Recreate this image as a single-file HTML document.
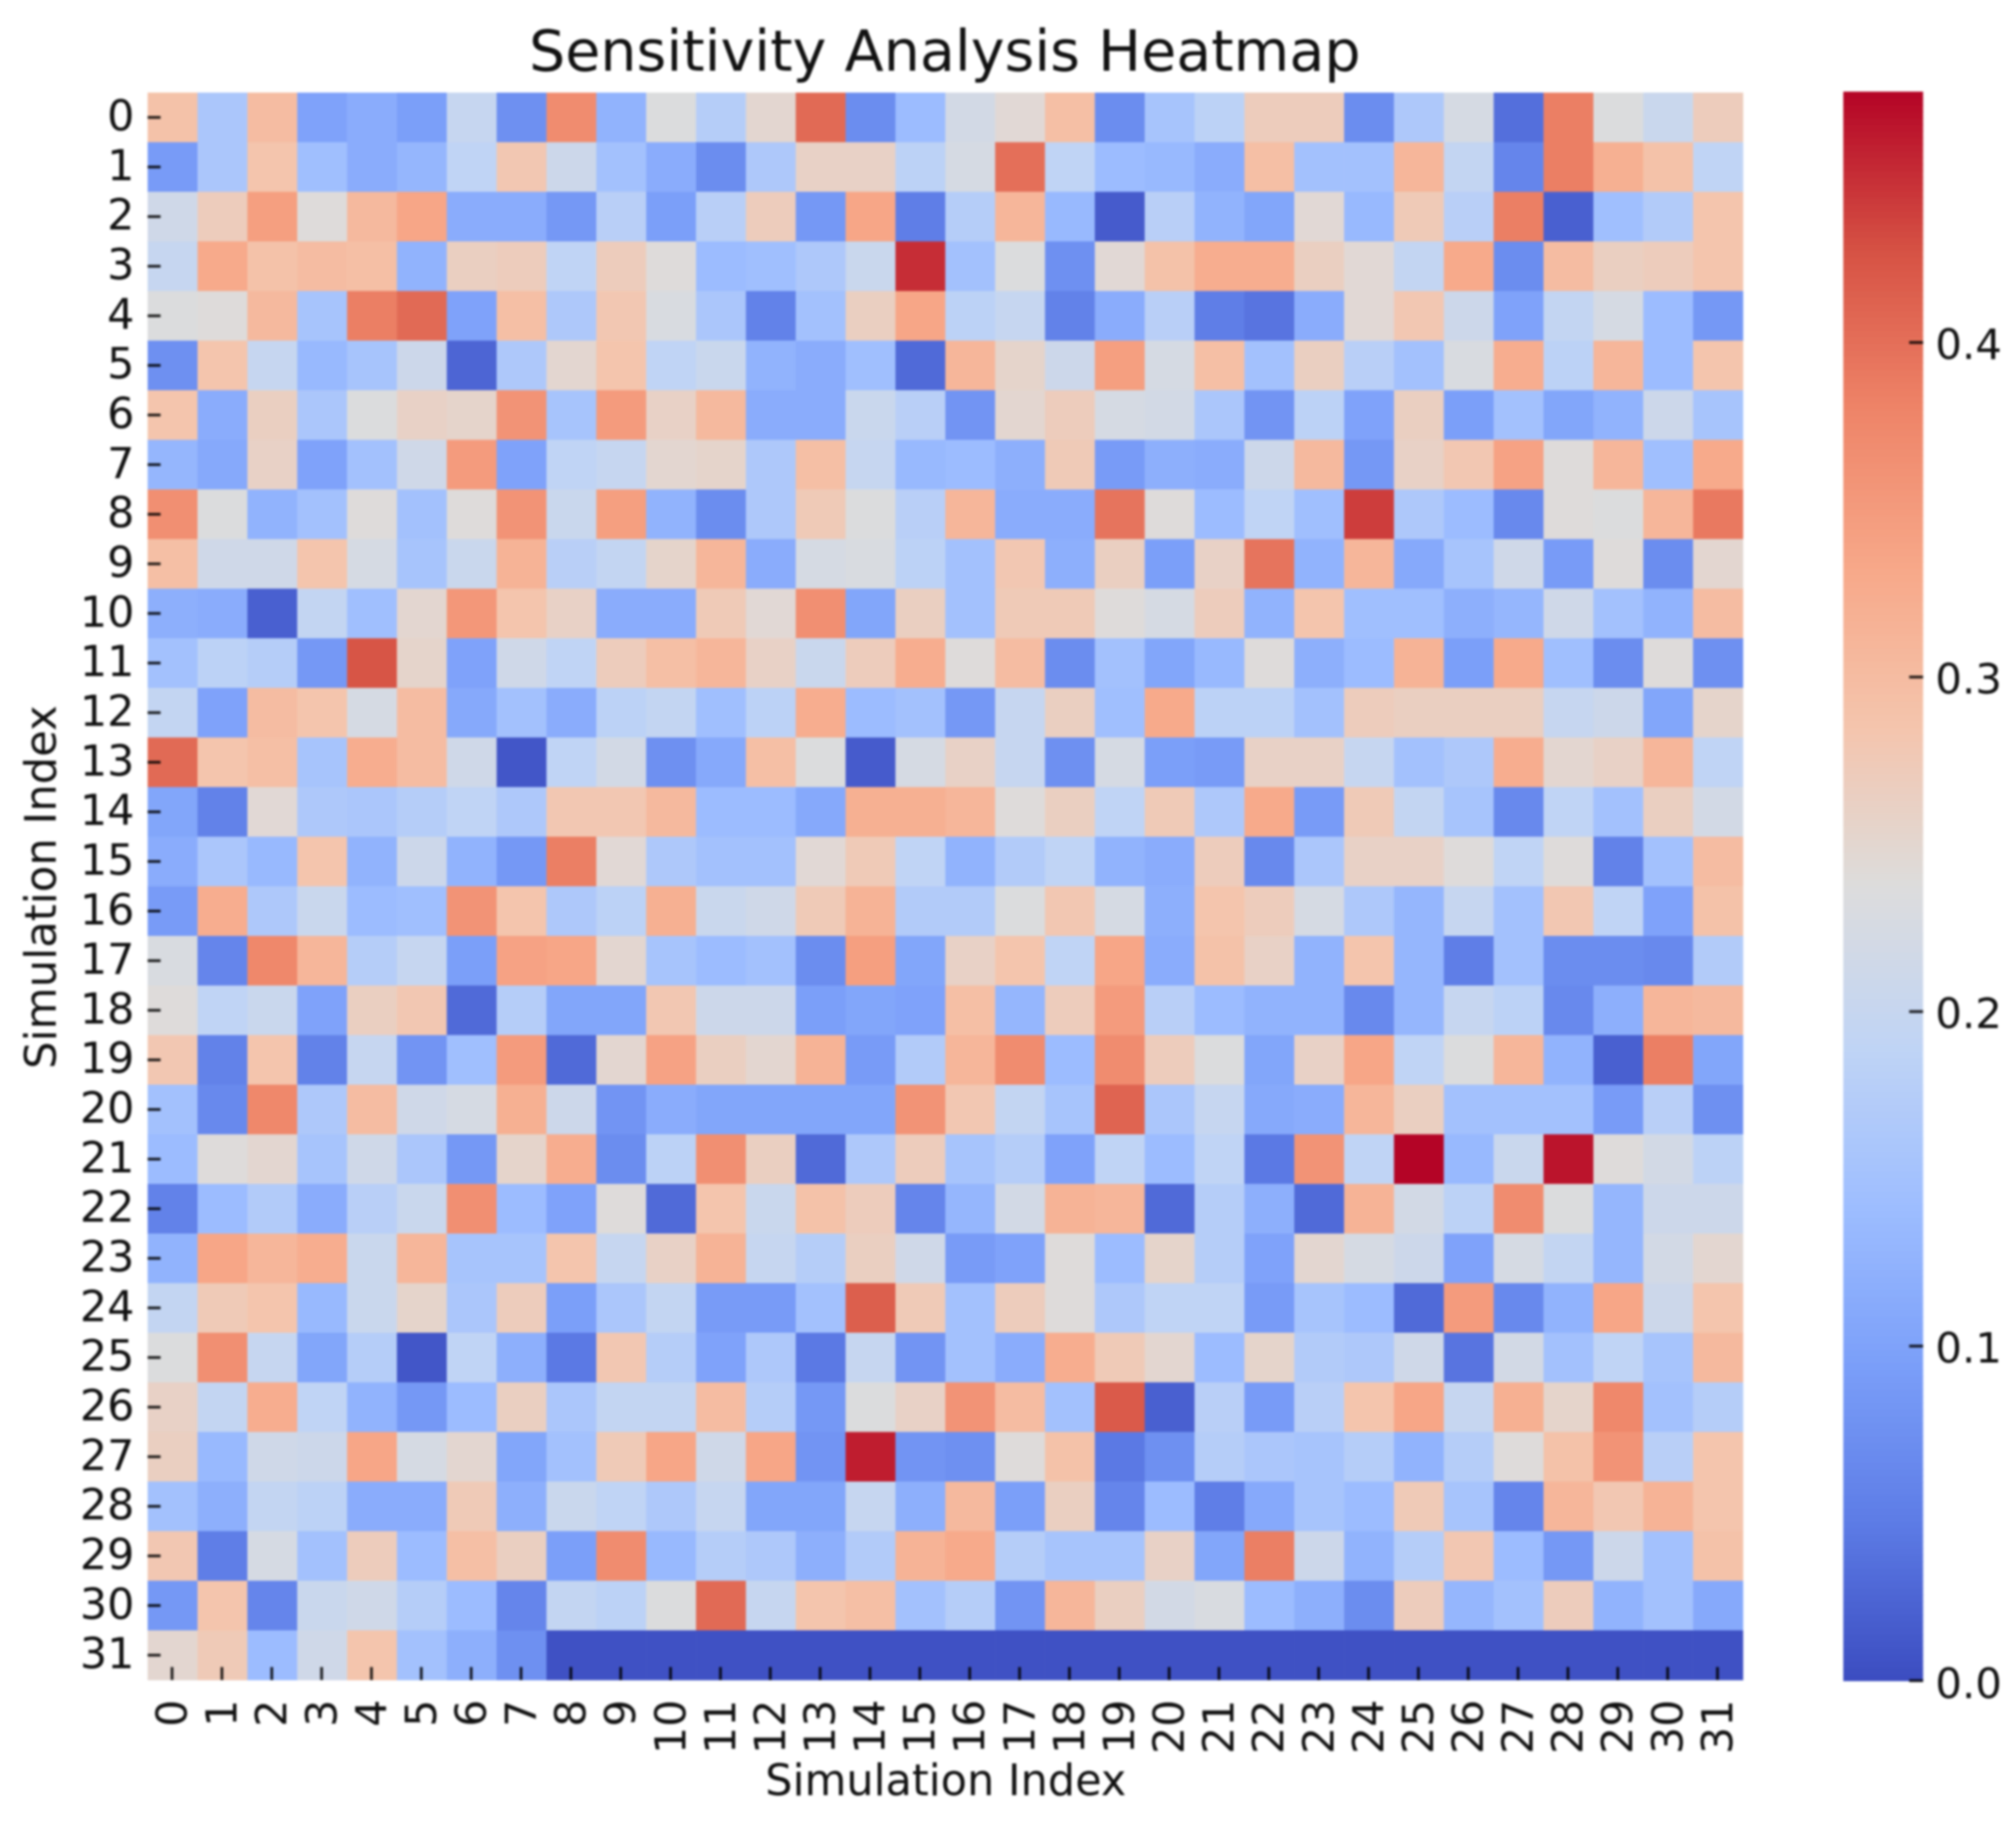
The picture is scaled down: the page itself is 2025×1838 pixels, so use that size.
<!DOCTYPE html>
<html lang="en">
<head>
<meta charset="utf-8">
<title>Sensitivity Analysis Heatmap</title>
<style>
  html, body { margin: 0; padding: 0; background: #fff; }
  body { width: 2025px; height: 1838px; overflow: hidden; }
  svg { display: block; filter: blur(1px); }
  text { font-family: "DejaVu Sans", "Liberation Sans", sans-serif; fill: #111; }
</style>
</head>
<body>
<svg id="chart" xmlns="http://www.w3.org/2000/svg" width="2025" height="1838" viewBox="0 0 2025 1838">
  <rect x="0" y="0" width="2025" height="1838" fill="#ffffff"/>
  <text x="949" y="71" font-size="57.4" text-anchor="middle">Sensitivity Analysis Heatmap</text>
  <text x="950" y="1803" font-size="43.2" text-anchor="middle">Simulation Index</text>
  <text x="0" y="0" font-size="43.5" text-anchor="middle" transform="translate(56 891) rotate(-90)">Simulation Index</text>
  <g id="cells"></g>
  <g id="xticks"></g>
  <g id="yticks"></g>
  <g id="colorbar"></g>
</svg>
<script>
const rowLabels = ["0","1","2","3","4","5","6","7","8","9","10","11","12","13","14","15","16","17","18","19","20","21","22","23","24","25","26","27","28","29","30","31"];
const colLabels = ["0","1","2","3","4","5","6","7","8","9","10","11","12","13","14","15","16","17","18","19","20","21","22","23","24","25","26","27","28","29","30","31"];
const colorbarTicks = [0.0, 0.1, 0.2, 0.3, 0.4];
const colorMax = 0.475;
const values = [
[.29,.16,.30,.10,.115,.095,.20,.075,.37,.125,.235,.175,.25,.405,.07,.14,.22,.245,.295,.07,.155,.185,.27,.27,.07,.165,.225,.035,.385,.235,.205,.27],
[.09,.16,.285,.145,.115,.13,.19,.28,.21,.15,.115,.07,.165,.26,.26,.185,.225,.40,.19,.14,.135,.115,.295,.15,.15,.31,.195,.06,.385,.32,.29,.19],
[.215,.27,.345,.24,.305,.335,.115,.115,.085,.18,.095,.18,.27,.085,.335,.05,.175,.31,.135,.015,.18,.125,.105,.245,.135,.275,.18,.385,.02,.145,.17,.285],
[.20,.33,.29,.30,.295,.125,.265,.27,.19,.27,.24,.14,.145,.165,.205,.45,.15,.235,.075,.245,.29,.325,.325,.265,.245,.195,.33,.07,.30,.265,.27,.285],
[.235,.24,.305,.155,.385,.405,.10,.295,.165,.28,.23,.16,.055,.15,.265,.335,.185,.20,.055,.115,.18,.05,.04,.115,.245,.28,.21,.10,.195,.225,.14,.085],
[.075,.285,.20,.135,.155,.21,.025,.165,.25,.285,.19,.205,.125,.115,.145,.03,.31,.255,.21,.345,.225,.295,.15,.265,.18,.15,.23,.325,.185,.31,.14,.285],
[.285,.115,.265,.16,.235,.26,.255,.36,.155,.35,.26,.305,.115,.115,.205,.18,.08,.25,.27,.225,.22,.16,.08,.185,.10,.265,.095,.15,.105,.125,.21,.155],
[.13,.11,.26,.10,.15,.215,.35,.10,.19,.20,.25,.255,.165,.295,.20,.135,.14,.12,.275,.09,.12,.115,.21,.305,.085,.26,.28,.34,.24,.31,.145,.33],
[.365,.235,.125,.15,.24,.15,.24,.36,.205,.345,.125,.07,.165,.275,.235,.18,.31,.115,.115,.395,.24,.14,.19,.145,.44,.165,.14,.065,.24,.235,.31,.39],
[.295,.215,.215,.285,.225,.155,.205,.315,.18,.195,.255,.31,.115,.225,.23,.185,.15,.28,.12,.265,.095,.26,.395,.125,.31,.11,.155,.215,.09,.24,.07,.25],
[.12,.115,.02,.195,.145,.25,.355,.285,.26,.115,.115,.275,.245,.365,.105,.265,.15,.275,.275,.24,.225,.27,.125,.285,.145,.145,.12,.13,.215,.15,.125,.30],
[.15,.185,.175,.085,.425,.255,.10,.215,.19,.27,.295,.31,.26,.205,.27,.325,.24,.30,.07,.15,.105,.135,.24,.12,.14,.315,.095,.33,.145,.07,.24,.075],
[.195,.10,.30,.285,.225,.30,.11,.15,.115,.185,.195,.145,.185,.325,.14,.15,.085,.20,.265,.145,.33,.185,.185,.15,.27,.265,.265,.265,.20,.21,.105,.255],
[.405,.285,.295,.155,.325,.30,.215,.01,.19,.22,.075,.11,.295,.235,.015,.225,.26,.20,.075,.225,.095,.09,.26,.26,.20,.15,.165,.325,.25,.26,.31,.19],
[.105,.055,.245,.165,.16,.175,.19,.165,.28,.28,.305,.14,.14,.11,.32,.32,.31,.24,.265,.19,.275,.165,.33,.09,.275,.195,.155,.065,.19,.15,.265,.22],
[.115,.16,.135,.285,.125,.21,.125,.085,.385,.245,.165,.15,.15,.245,.275,.19,.125,.17,.19,.125,.115,.27,.065,.16,.26,.26,.24,.19,.24,.055,.15,.30],
[.09,.325,.165,.205,.14,.145,.36,.285,.165,.185,.32,.205,.215,.275,.315,.17,.17,.235,.28,.225,.12,.285,.27,.225,.165,.13,.20,.15,.28,.19,.10,.29],
[.23,.06,.375,.31,.175,.20,.095,.34,.335,.25,.155,.14,.15,.07,.345,.105,.26,.285,.19,.335,.115,.29,.26,.125,.285,.13,.05,.15,.07,.07,.065,.17],
[.24,.19,.205,.10,.265,.28,.03,.175,.105,.105,.28,.21,.21,.095,.105,.10,.295,.13,.27,.35,.18,.14,.125,.125,.065,.13,.20,.185,.065,.12,.31,.305],
[.28,.055,.285,.055,.20,.08,.145,.35,.03,.25,.34,.265,.25,.315,.09,.17,.31,.37,.14,.37,.27,.235,.105,.26,.335,.19,.235,.31,.125,.02,.385,.105],
[.15,.065,.375,.165,.30,.215,.225,.32,.21,.08,.115,.105,.105,.105,.105,.36,.28,.195,.155,.41,.16,.20,.11,.115,.31,.265,.15,.15,.15,.09,.18,.075],
[.14,.24,.25,.155,.215,.16,.085,.255,.325,.07,.185,.365,.265,.03,.165,.27,.155,.175,.10,.19,.14,.19,.045,.36,.19,.475,.135,.205,.465,.24,.22,.185],
[.055,.14,.17,.115,.18,.205,.365,.14,.10,.24,.03,.285,.205,.29,.27,.06,.13,.22,.315,.31,.03,.175,.12,.03,.315,.22,.185,.37,.235,.13,.21,.21],
[.125,.335,.31,.325,.205,.31,.155,.155,.285,.20,.26,.315,.20,.175,.265,.215,.09,.10,.24,.14,.255,.175,.10,.25,.225,.21,.10,.225,.195,.13,.22,.25],
[.195,.275,.285,.135,.205,.255,.16,.27,.095,.16,.195,.09,.09,.15,.415,.275,.15,.27,.24,.165,.19,.19,.09,.155,.14,.03,.35,.065,.125,.335,.21,.285],
[.235,.365,.20,.105,.175,.01,.19,.12,.045,.28,.175,.10,.165,.045,.20,.08,.15,.115,.325,.275,.25,.14,.255,.17,.165,.215,.04,.22,.15,.19,.155,.305],
[.26,.195,.325,.19,.125,.085,.14,.265,.16,.195,.195,.30,.175,.085,.235,.26,.36,.30,.15,.42,.02,.18,.09,.18,.285,.335,.20,.32,.255,.375,.15,.175],
[.265,.135,.215,.21,.335,.225,.25,.105,.15,.275,.335,.215,.335,.08,.46,.08,.075,.24,.29,.045,.075,.175,.16,.155,.175,.125,.175,.24,.29,.36,.18,.285],
[.15,.12,.195,.185,.115,.115,.275,.12,.205,.19,.165,.20,.105,.105,.20,.12,.305,.095,.265,.06,.14,.05,.11,.155,.14,.275,.155,.06,.31,.28,.315,.285],
[.28,.05,.225,.15,.27,.14,.295,.265,.095,.37,.135,.175,.165,.12,.17,.315,.33,.175,.155,.155,.26,.105,.385,.21,.125,.175,.28,.14,.085,.21,.15,.29],
[.085,.285,.06,.205,.215,.175,.14,.06,.195,.185,.235,.405,.20,.285,.295,.15,.175,.08,.31,.265,.22,.23,.14,.12,.07,.27,.13,.15,.27,.125,.15,.11],
[.25,.275,.14,.215,.285,.15,.12,.075,.005,.005,.005,.005,.005,.005,.005,.005,.005,.005,.005,.005,.005,.005,.005,.005,.005,.005,.005,.005,.005,.005,.005,.005]
];

const SVG_NS = "http://www.w3.org/2000/svg";
const plotLeft = 148.3, plotRight = 1750.7, plotTop = 93, plotBottom = 1687.3;
const barLeft = 1851.5, barRight = 1931.7, barZero = 1688, barPerUnit = 3360;
const coolwarmStops = ["#3b4cc0","#5d7ce6","#7b9ff9","#9ebeff","#c0d4f5","#dddcdc","#f4c5ad","#f7a889","#ee8468","#d65244","#b40426"];

function hexToRgb(h) {
  return [parseInt(h.slice(1,3),16), parseInt(h.slice(3,5),16), parseInt(h.slice(5,7),16)];
}
function colorFor(v) {
  const t = Math.max(0, Math.min(1, v / colorMax)) * (coolwarmStops.length - 1);
  const i = Math.min(coolwarmStops.length - 2, Math.floor(t));
  const f = t - i;
  const a = hexToRgb(coolwarmStops[i]), b = hexToRgb(coolwarmStops[i + 1]);
  return "rgb(" + a.map((c, k) => Math.round(c + (b[k] - c) * f)).join(",") + ")";
}
function xScale(i) { return plotLeft + (plotRight - plotLeft) * i / colLabels.length; }
function yScale(i) { return plotTop + (plotBottom - plotTop) * i / rowLabels.length; }
function barY(v) { return barZero - v * barPerUnit; }
function make(tag, attrs, parent, content) {
  const el = document.createElementNS(SVG_NS, tag);
  for (const k in attrs) el.setAttribute(k, attrs[k]);
  if (content !== undefined) el.textContent = content;
  parent.appendChild(el);
  return el;
}

const cellsG = document.getElementById("cells");
values.forEach((row, r) => {
  row.forEach((v, c) => {
    const el = make("rect", {
      x: xScale(c), y: yScale(r),
      width: xScale(c + 1) - xScale(c) + 0.3,
      height: yScale(r + 1) - yScale(r) + 0.3,
      fill: colorFor(v)
    }, cellsG);
    
    
  });
});

const xG = document.getElementById("xticks");
colLabels.forEach((lab, i) => {
  const x = xScale(i + 0.5) - 0.5;
  const tick = make("rect", { x: x - 1.4, y: plotBottom - 13, width: 2.8, height: 13, fill: "#000", opacity: 0.85 }, xG);
  
  
  const t = make("text", {
    x: 0, y: 0, dy: "0.365em", "font-size": 43, "text-anchor": "end",
    transform: "translate(" + (x - 1) + " 1707) rotate(-90)"
  }, xG, lab);
  
  
});

const yG = document.getElementById("yticks");
rowLabels.forEach((lab, i) => {
  const y = yScale(i + 0.5);
  const tick = make("rect", { x: plotLeft, y: y - 1.4, width: 13, height: 2.8, fill: "#000", opacity: 0.85 }, yG);
  
  
  const t = make("text", { x: 135, y: y - 2.5, dy: "0.365em", "font-size": 43, "text-anchor": "end" }, yG, lab);
  
  
});

const barG = document.getElementById("colorbar");
const stripes = 240;
for (let i = 0; i < stripes; i++) {
  const v0 = colorMax * i / stripes, v1 = colorMax * (i + 1) / stripes;
  const s = make("rect", {
    x: barLeft, y: barY(v1), width: barRight - barLeft,
    height: barY(v0) - barY(v1) + 0.5, fill: colorFor((v0 + v1) / 2)
  }, barG);
  
  
}
colorbarTicks.forEach(v => {
  const y = barY(v);
  const tick = make("rect", { x: barRight - 14, y: y - 1.5, width: 14, height: 3, fill: "#000", opacity: 0.8 }, barG);
  
  
  const t = make("text", { x: 1944, y: y + (v === 0 ? 2 : 1), dy: "0.365em", "font-size": 42 }, barG, v.toFixed(1));
  
  
});
</script>
</body>
</html>
